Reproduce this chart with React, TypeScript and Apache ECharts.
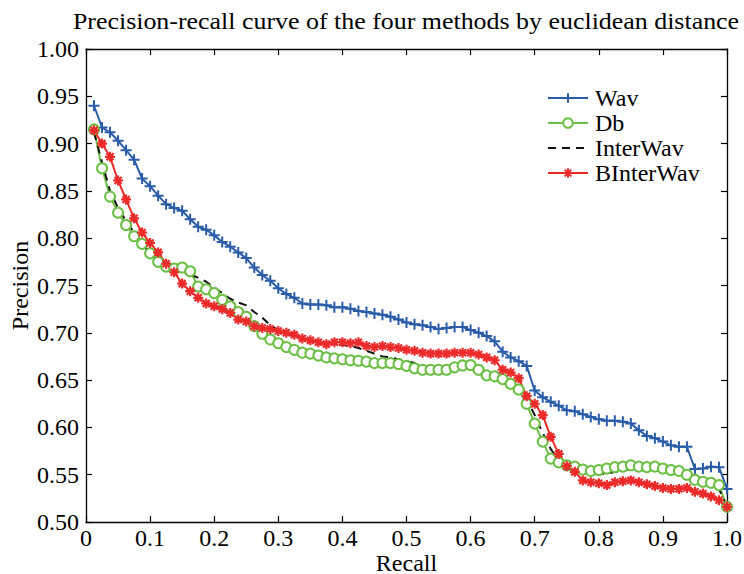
import { useEffect, useRef } from "react";
import * as echarts from "echarts";

const recall = [
  0.0125, 0.025, 0.0375, 0.05, 0.0625, 0.075, 0.0875, 0.1,
  0.1125, 0.125, 0.1375, 0.15, 0.1625, 0.175, 0.1875, 0.2,
  0.2125, 0.225, 0.2375, 0.25, 0.2625, 0.275, 0.2875, 0.3,
  0.3125, 0.325, 0.3375, 0.35, 0.3625, 0.375, 0.3875, 0.4,
  0.4125, 0.425, 0.4375, 0.45, 0.4625, 0.475, 0.4875, 0.5,
  0.5125, 0.525, 0.5375, 0.55, 0.5625, 0.575, 0.5875, 0.6,
  0.6125, 0.625, 0.6375, 0.65, 0.6625, 0.675, 0.6875, 0.7,
  0.7125, 0.725, 0.7375, 0.75, 0.7625, 0.775, 0.7875, 0.8,
  0.8125, 0.825, 0.8375, 0.85, 0.8625, 0.875, 0.8875, 0.9,
  0.9125, 0.925, 0.9375, 0.95, 0.9625, 0.975, 0.9875, 1.0,
];

const wav = [
  0.940, 0.917, 0.912, 0.903, 0.893, 0.883, 0.863, 0.855,
  0.845, 0.836, 0.832, 0.829, 0.820, 0.812, 0.809, 0.803,
  0.796, 0.791, 0.785, 0.779, 0.769, 0.761, 0.755, 0.747,
  0.741, 0.737, 0.731, 0.730, 0.730, 0.729, 0.727, 0.727,
  0.7255, 0.723, 0.722, 0.7205, 0.719, 0.717, 0.714, 0.711,
  0.709, 0.708, 0.706, 0.704, 0.705, 0.706, 0.706, 0.703,
  0.700, 0.6965, 0.691, 0.680, 0.674, 0.670, 0.665, 0.639,
  0.632, 0.627, 0.623, 0.618, 0.617, 0.614, 0.611, 0.6085,
  0.607, 0.607, 0.606, 0.604, 0.597, 0.591, 0.5885, 0.585,
  0.581, 0.5795, 0.5795, 0.556, 0.5565, 0.5585, 0.558, 0.535,
];

const db = [
  0.915, 0.874, 0.844, 0.827, 0.814, 0.802, 0.794, 0.784,
  0.775, 0.770, 0.768, 0.769, 0.765, 0.749, 0.746, 0.742,
  0.735, 0.728, 0.722, 0.717, 0.707, 0.699, 0.693, 0.689,
  0.685, 0.682, 0.679, 0.678, 0.676, 0.674, 0.673, 0.672,
  0.671, 0.6705, 0.6695, 0.668, 0.668, 0.668, 0.667, 0.665,
  0.6625, 0.661, 0.661, 0.661, 0.661, 0.6635, 0.6655, 0.666,
  0.661, 0.655, 0.654, 0.651, 0.646, 0.640, 0.625, 0.604,
  0.585, 0.567, 0.563, 0.560, 0.5585, 0.5555, 0.554, 0.555,
  0.5565, 0.558, 0.5585, 0.560, 0.5585, 0.558, 0.5585, 0.5565,
  0.555, 0.554, 0.550, 0.5445, 0.5425, 0.5415, 0.539, 0.516,
];

const interWav = [
  0.912, 0.880, 0.850, 0.832, 0.818, 0.806, 0.794, 0.784,
  0.776, 0.771, 0.768, 0.765, 0.762, 0.758, 0.754, 0.748,
  0.742, 0.736, 0.732, 0.729, 0.722, 0.716, 0.708, 0.703,
  0.699, 0.696, 0.693, 0.692, 0.690, 0.689, 0.688, 0.687,
  0.686, 0.684, 0.681, 0.678, 0.675, 0.674, 0.672, 0.670,
  0.668, 0.665, 0.663, 0.661, 0.660, 0.660, 0.662, 0.662,
  0.658, 0.654, 0.651, 0.648, 0.644, 0.639, 0.630, 0.613,
  0.594, 0.577, 0.566, 0.562, 0.560, 0.558, 0.553, 0.551,
  0.551, 0.553, 0.554, 0.556, 0.557, 0.557, 0.557, 0.557,
  0.556, 0.553, 0.545, 0.543, 0.541, 0.540, 0.535, 0.516,
];

const bInterWav = [
  0.914, 0.900, 0.886, 0.861, 0.841, 0.821, 0.806, 0.795,
  0.785, 0.773, 0.764, 0.752, 0.744, 0.737, 0.731, 0.728,
  0.725, 0.721, 0.714, 0.712, 0.707, 0.705, 0.704, 0.702,
  0.700, 0.698, 0.694, 0.692, 0.690, 0.688, 0.690, 0.690,
  0.689, 0.690, 0.686, 0.685, 0.686, 0.685, 0.684, 0.682,
  0.681, 0.679, 0.678, 0.678, 0.678, 0.679, 0.679, 0.679,
  0.677, 0.674, 0.671, 0.661, 0.658, 0.652, 0.633, 0.625,
  0.613, 0.590, 0.572, 0.559, 0.553, 0.544, 0.542, 0.541,
  0.539, 0.542, 0.543, 0.544, 0.542, 0.540, 0.538, 0.536,
  0.535, 0.535, 0.536, 0.532, 0.530, 0.527, 0.523, 0.516,
];

const seriesNames = ["Wav", "Db", "InterWav", "BInterWav"];
const titleText = "Precision-recall curve of the four methods by euclidean distance";
const xName = "Recall";
const yName = "Precision";

const FONT = "Liberation Serif";
const BLUE = "#2a5ca8";
const GREEN = "#6cbf45";
const RED = "#ec2a2a";

const PLUS = "path://M0,-1L0,1M-1,0L1,0";
const STAR = "path://M0,-1L0,1M-1,0L1,0M-0.7,-0.7L0.7,0.7M-0.7,0.7L0.7,-0.7";

const pairs = (ys: number[]) => recall.map((x, i) => [x, ys[i]]);

export default function App() {
  const ref = useRef<HTMLDivElement>(null);
  useEffect(() => {
    const chart = echarts.init(ref.current!, null, { renderer: "svg" });
    const axisLine = { show: true, onZero: false, lineStyle: { color: "#000", width: 1.3 } };
    const tick = { show: true, inside: true, length: 6, lineStyle: { color: "#000", width: 1.2 } };
    const labelStyle = { fontFamily: FONT, fontSize: 24, color: "#000" };
    chart.setOption({
      animation: false,
      backgroundColor: "#fff",
      grid: {
        left: 86,
        right: 17,
        top: 49,
        bottom: 52,
        containLabel: false,
        outerBoundsMode: "none",
      },
      graphic: [
        {
          type: "text",
          x: 406,
          y: 21,
          scaleX: 1.08,
          style: {
            text: titleText,
            fontFamily: FONT,
            fontSize: 24,
            fill: "#000",
            textAlign: "center",
            textVerticalAlign: "middle",
          },
        },
      ],
      legend: {
        orient: "vertical",
        left: 542,
        top: 81,
        itemWidth: 40,
        itemHeight: 12,
        itemGap: 1,
        data: [
          { name: seriesNames[0] },
          { name: seriesNames[1] },
          {
            name: seriesNames[2],
            itemStyle: { color: "rgba(0,0,0,0)", borderColor: "rgba(0,0,0,0)", borderWidth: 0 },
          },
          { name: seriesNames[3] },
        ],
        textStyle: { ...labelStyle, padding: [0, 0, 0, 2] },
      },
      xAxis: [
        {
          type: "value",
          min: 0,
          max: 1,
          interval: 0.1,
          position: "bottom",
          axisLine,
          axisTick: tick,
          splitLine: { show: false },
          axisLabel: {
            ...labelStyle,
            lineHeight: 20,
            margin: 6,
            formatter: (v: number) => (v === 0 ? "0" : v.toFixed(1)),
          },
          name: xName,
          nameLocation: "middle",
          nameGap: 31,
          nameMoveOverlap: false,
          nameTextStyle: { ...labelStyle, lineHeight: 20 },
        },
        {
          type: "value",
          min: 0,
          max: 1,
          interval: 0.1,
          position: "top",
          axisLine,
          axisTick: tick,
          splitLine: { show: false },
          axisLabel: { show: false },
        },
      ],
      yAxis: [
        {
          type: "value",
          min: 0.5,
          max: 1,
          interval: 0.05,
          position: "left",
          axisLine,
          axisTick: tick,
          splitLine: { show: false },
          axisLabel: {
            ...labelStyle,
            margin: 7,
            formatter: (v: number) => v.toFixed(2),
          },
          name: yName,
          nameLocation: "middle",
          nameGap: 54,
          nameMoveOverlap: false,
          nameRotate: 90,
          nameTextStyle: { ...labelStyle },
        },
        {
          type: "value",
          min: 0.5,
          max: 1,
          interval: 0.05,
          position: "right",
          axisLine,
          axisTick: tick,
          splitLine: { show: false },
          axisLabel: { show: false },
        },
      ],
      series: [
        {
          name: seriesNames[0],
          type: "line",
          data: pairs(wav),
          symbol: PLUS,
          symbolSize: 11,
          showAllSymbol: true,
          lineStyle: { color: BLUE, width: 2 },
          itemStyle: { color: BLUE, borderColor: BLUE, borderWidth: 2 },
        },
        {
          name: seriesNames[1],
          type: "line",
          data: pairs(db),
          symbol: "emptyCircle",
          symbolSize: 10,
          showAllSymbol: true,
          lineStyle: { color: GREEN, width: 2 },
          itemStyle: { color: GREEN, borderColor: GREEN, borderWidth: 2 },
        },
        {
          name: seriesNames[2],
          type: "line",
          data: pairs(interWav),
          symbol: "none",
          lineStyle: { color: "#111", width: 2, type: [8, 6] },
          itemStyle: { color: "#111" },
        },
        {
          name: seriesNames[3],
          type: "line",
          data: pairs(bInterWav),
          symbol: STAR,
          symbolSize: 10,
          showAllSymbol: true,
          lineStyle: { color: RED, width: 2 },
          itemStyle: { color: RED, borderColor: RED, borderWidth: 2.2 },
        },
      ],
    });
    return () => chart.dispose();
  }, []);
  return (
    <div
      ref={ref}
      style={{ width: 744, height: 574, position: "absolute", left: 0, top: 0 }}
    />
  );
}
